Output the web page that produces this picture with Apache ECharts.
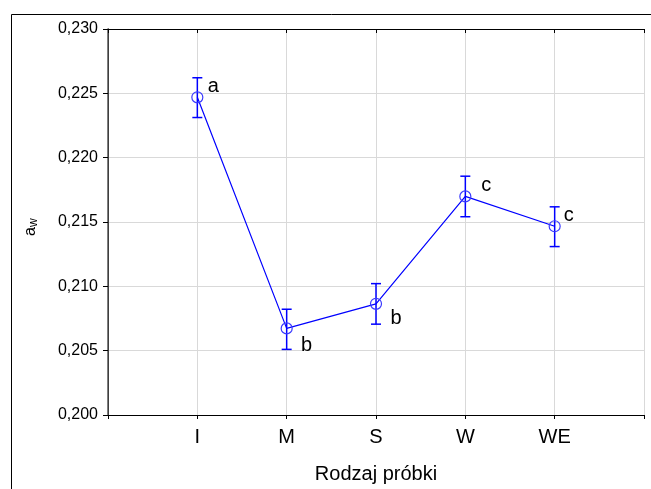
<!DOCTYPE html>
<html>
<head>
<meta charset="utf-8">
<script src="https://cdn.jsdelivr.net/npm/echarts@6/dist/echarts.min.js"></script>
<style>
  html, body { margin: 0; padding: 0; background: #fff; }
  #chart { width: 651px; height: 489px; }
</style>
</head>
<body>
<div id="chart"></div>
<script>
  // rodzaj próbki
  const categories = ['I', 'M', 'S', 'W', 'WE']
  // średnie a_w
  const means = [0.22469, 0.20673, 0.20864, 0.21699, 0.21467]
  // granice przedziałów (słupki błędu)
  const lower = [0.22312, 0.20510, 0.20706, 0.21541, 0.21309]
  const upper = [0.22621, 0.20822, 0.21021, 0.21856, 0.21618]
  // grupy jednorodne
  const letters = ['a', 'b', 'b', 'c', 'c']
  const yTicks = [0.200, 0.205, 0.210, 0.215, 0.220, 0.225, 0.230]

  const font = 'Liberation Sans, Arial, sans-serif'
  const blue = '#0000ff'
  // położenie liter względem punktu
  const letterOffsets = [[16, -11], [20, 17], [20, 15], [21, -11], [14, -11]]

  const chart = echarts.init(document.getElementById('chart'))

  const pts = means.map((v, i) => [i + 1, v])
  const bars = means.map((v, i) => [i + 1, lower[i], upper[i]])

  chart.setOption({
    animation: false,
    grid: { left: 108, top: 29, right: 7, bottom: 72, containLabel: false },
    graphic: [
      {
        type: 'rect', left: 9, top: 12, silent: true,
        shape: { width: 700, height: 600 },
        style: { fill: 'none', stroke: '#000', lineWidth: 1 }
      },
      {
        type: 'text', x: 21, y: 236, rotation: Math.PI / 2,
        style: {
          text: '{a|a}{w|w}',
          rich: {
            a: { fontSize: 16, fontFamily: font, fill: '#000' },
            w: { fontSize: 12, fontFamily: font, fill: '#000', padding: [7, 0, 0, 0] }
          }
        }
      }
    ],
    xAxis: [{
      type: 'value', min: 0, max: 6, interval: 1,
      name: 'Rodzaj próbki', nameLocation: 'middle', nameGap: 49,
      nameTextStyle: { fontSize: 20, fontFamily: font, color: '#000' },
      axisLine: { lineStyle: { color: '#000', width: 1 } },
      axisTick: { show: true, inside: false, length: 4, lineStyle: { color: '#000' } },
      axisLabel: {
        margin: 12, fontSize: 20, fontFamily: font, color: '#000',
        formatter: v => categories[v - 1] || ''
      },
      splitLine: { show: true, lineStyle: { color: '#d9d9d9', width: 1 } }
    }, {
      type: 'value', position: 'top', min: 0, max: 6, interval: 1,
      axisLine: { show: true, lineStyle: { color: '#000', width: 1 } },
      axisTick: { show: true, inside: true, length: 4, lineStyle: { color: '#000' } },
      axisLabel: { show: false },
      splitLine: { show: false }
    }],
    yAxis: [{
      type: 'value', min: 0.200, max: 0.230, interval: 0.005,
      axisLine: { show: true, lineStyle: { color: '#000', width: 1 } },
      axisTick: { show: true, inside: false, length: 5, lineStyle: { color: '#000' } },
      axisLabel: {
        margin: 10, fontSize: 16, fontFamily: font, color: '#000',
        formatter: v => yTicks.find(t => Math.abs(t - v) < 1e-9).toFixed(3).replace('.', ',')
      },
      splitLine: { show: true, lineStyle: { color: '#d9d9d9', width: 1 } }
    }, {
      type: 'value', position: 'right', min: 0.200, max: 0.230, interval: 0.005,
      axisLine: { show: true, lineStyle: { color: '#555', width: 1.5 } },
      axisTick: { show: true, inside: true, length: 4, lineStyle: { color: '#000' } },
      axisLabel: { show: false },
      splitLine: { show: false }
    }],
    series: [
      {
        type: 'custom',
        xAxisIndex: 0, yAxisIndex: 0,
        data: bars,
        z: 3,
        renderItem: (params, api) => {
          const x = api.value(0)
          const lo = api.coord([x, api.value(1)])
          const hi = api.coord([x, api.value(2)])
          const w = 5
          const style = { stroke: blue, lineWidth: 1.5 }
          return {
            type: 'group',
            children: [
              { type: 'line', shape: { x1: lo[0], y1: lo[1], x2: hi[0], y2: hi[1] }, style },
              { type: 'line', shape: { x1: lo[0] - w, y1: lo[1], x2: lo[0] + w, y2: lo[1] }, style },
              { type: 'line', shape: { x1: hi[0] - w, y1: hi[1], x2: hi[0] + w, y2: hi[1] }, style }
            ]
          }
        }
      },
      {
        type: 'line',
        xAxisIndex: 0, yAxisIndex: 0,
        data: pts.map((p, i) => ({
          value: p,
          label: {
            show: true, formatter: letters[i], position: 'inside',
            offset: letterOffsets[i], fontSize: 20, fontFamily: font, color: '#000'
          }
        })),
        z: 4,
        symbol: 'circle', symbolSize: 11,
        lineStyle: { color: blue, width: 1.2 },
        itemStyle: { color: 'rgba(0,0,0,0)', borderColor: '#3a3aff', borderWidth: 1.2 }
      }
    ]
  })
</script>
</body>
</html>
